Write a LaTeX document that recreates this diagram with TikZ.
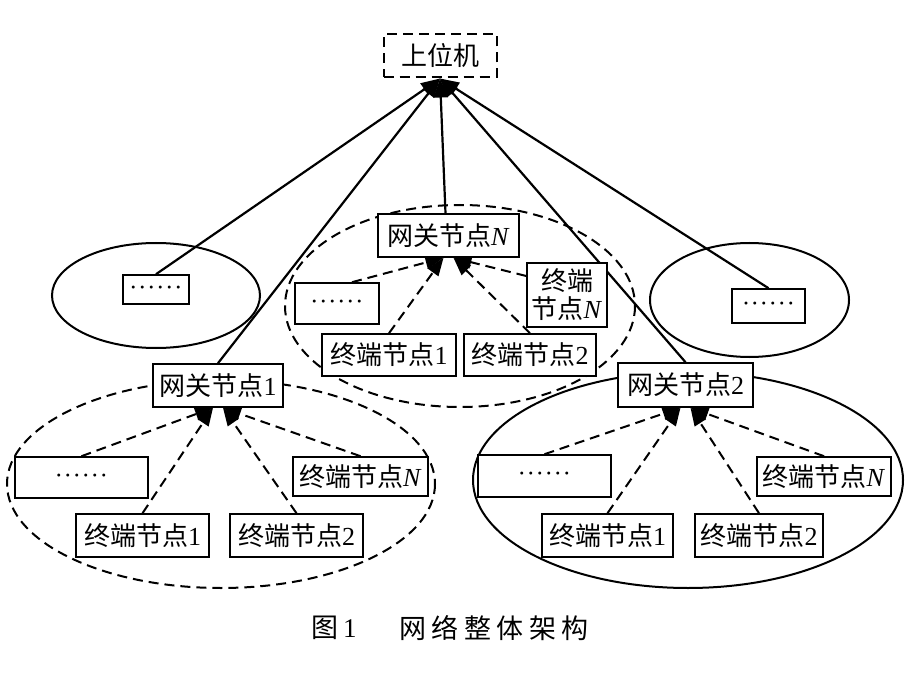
\documentclass[tikz,border=0pt]{standalone}
\usepackage{fontspec}
\setmainfont{Liberation Serif}
\newfontfamily\cjk{Noto Sans CJK SC}
\newcommand\zh[1]{{\cjk #1}}
\newcommand\sixdots{·\kern3pt·\kern3pt·\kern3pt·\kern3pt·\kern3pt·}
\usetikzlibrary{arrows.meta,calc,backgrounds}
\begin{document}
\begin{tikzpicture}[x=1pt,y=-1pt,
 box/.style={draw,line width=1.6pt,fill=white,inner sep=0pt,align=center,font=\fontsize{26}{28}\selectfont},
 dotbox/.style={box,font=\fontsize{18}{20}\selectfont\bfseries},
 ell/.style={draw,line width=2pt},
 dashell/.style={ell,dash pattern=on 10pt off 6pt},
 up/.style={line width=2.2pt,-{Triangle[length=19pt,width=14pt]}},
 sub/.style={line width=2pt,dash pattern=on 10pt off 6pt,-{Triangle[length=18pt,width=13pt]}},
]
\useasboundingbox (0,0) rectangle (920,700);

% top
\node[box,dash pattern=on 10pt off 6pt,line width=2pt,minimum width=113pt,minimum height=43pt] (pc) at (440,56) {\zh{上位机}};

% side groups
\node[dotbox,minimum width=66pt,minimum height=29pt] (dL) at (156,289.5) {\sixdots};
\node[dotbox,minimum width=73pt,minimum height=34pt] (dR) at (768.5,306) {\sixdots};

% centre group
\node[box,minimum width=141pt,minimum height=43pt] (gwN) at (448.5,235.5) {\zh{网关节点}\textit{N}};
\node[dotbox,minimum width=84pt,minimum height=41pt] (dC) at (337,303.5) {\sixdots};
\node[box,minimum width=80pt,minimum height=64pt] (tNC) at (567,295) {\zh{终端}\\\zh{节点}\textit{N}};
\node[box,minimum width=134pt,minimum height=42pt] (t1C) at (389,355) {\zh{终端节点}1};
\node[box,minimum width=132pt,minimum height=42pt] (t2C) at (530,355) {\zh{终端节点}2};

% left group
\node[box,minimum width=130pt,minimum height=43pt] (gw1) at (218,385.5) {\zh{网关节点}1};
\node[dotbox,minimum width=133pt,minimum height=41pt] (d1) at (81.5,477.5) {\sixdots};
\node[box,minimum width=135pt,minimum height=39pt] (tN1) at (360.5,476.5) {\zh{终端节点}\textit{N}};
\node[box,minimum width=133pt,minimum height=43pt] (t11) at (142.5,535.5) {\zh{终端节点}1};
\node[box,minimum width=133pt,minimum height=43pt] (t21) at (296.5,535.5) {\zh{终端节点}2};

% right group
\node[box,minimum width=135pt,minimum height=44pt] (gw2) at (685.5,385) {\zh{网关节点}2};
\node[dotbox,minimum width=133pt,minimum height=42pt] (d2) at (544.5,476) {\sixdots};
\node[box,minimum width=134pt,minimum height=39pt] (tN2) at (824,476.5) {\zh{终端节点}\textit{N}};
\node[box,minimum width=131pt,minimum height=43pt] (t12) at (607.5,535.5) {\zh{终端节点}1};
\node[box,minimum width=128pt,minimum height=43pt] (t22) at (759,535.5) {\zh{终端节点}2};

% caption
\node[anchor=west,inner sep=0pt,font=\fontsize{27}{30}\selectfont] (capA) at (311,628) {\zh{图}\hspace{5pt}1};
\node[anchor=west,inner sep=0pt,font=\fontsize{27}{30}\selectfont\cjk] (capB) at (399,628) {网\hspace{5.5pt}络\hspace{5.5pt}整\hspace{5.5pt}体\hspace{5.5pt}架\hspace{5.5pt}构};

\begin{scope}[on background layer]
 % ellipses
 \draw[ell] (156,295.5) ellipse [x radius=104, y radius=52.5];
 \draw[ell] (749.5,300) ellipse [x radius=99.5, y radius=57];
 \draw[dashell] (460,306) ellipse [x radius=175, y radius=101];
 \draw[dashell] (221,484) ellipse [x radius=214, y radius=104];
 \draw[ell] (688,480) ellipse [x radius=215, y radius=108];

 % top connectors
 \draw[up] (dL.north) -- (pc.south);
 \draw[up] (gw1.north) -- (pc.south);
 \draw[up] ($(gwN.north)+(-3,0)$) -- (pc.south);
 \draw[up] (gw2.north) -- (pc.south);
 \draw[up] (dR.north) -- (pc.south);

 % centre connectors
 \draw[sub] ($(dC.north)+(15,0)$) -- ($(gwN.south)+(-5,0)$);
 \draw[sub] (t1C.north) -- ($(gwN.south)+(-5,0)$);
 \draw[sub] (t2C.north) -- ($(gwN.south)+(5,0)$);
 \draw[sub] (tNC.155) -- ($(gwN.south)+(5,0)$);

 % left connectors
 \draw[sub] (d1.north) -- ($(gw1.south)+(-5,0)$);
 \draw[sub] (t11.north) -- ($(gw1.south)+(-5,0)$);
 \draw[sub] (t21.north) -- ($(gw1.south)+(5,0)$);
 \draw[sub] (tN1.north) -- ($(gw1.south)+(5,0)$);

 % right connectors
 \draw[sub] (d2.north) -- ($(gw2.south)+(-5,0)$);
 \draw[sub] (t12.north) -- ($(gw2.south)+(-5,0)$);
 \draw[sub] (t22.north) -- ($(gw2.south)+(5,0)$);
 \draw[sub] (tN2.north) -- ($(gw2.south)+(5,0)$);
\end{scope}
\end{tikzpicture}
\end{document}
